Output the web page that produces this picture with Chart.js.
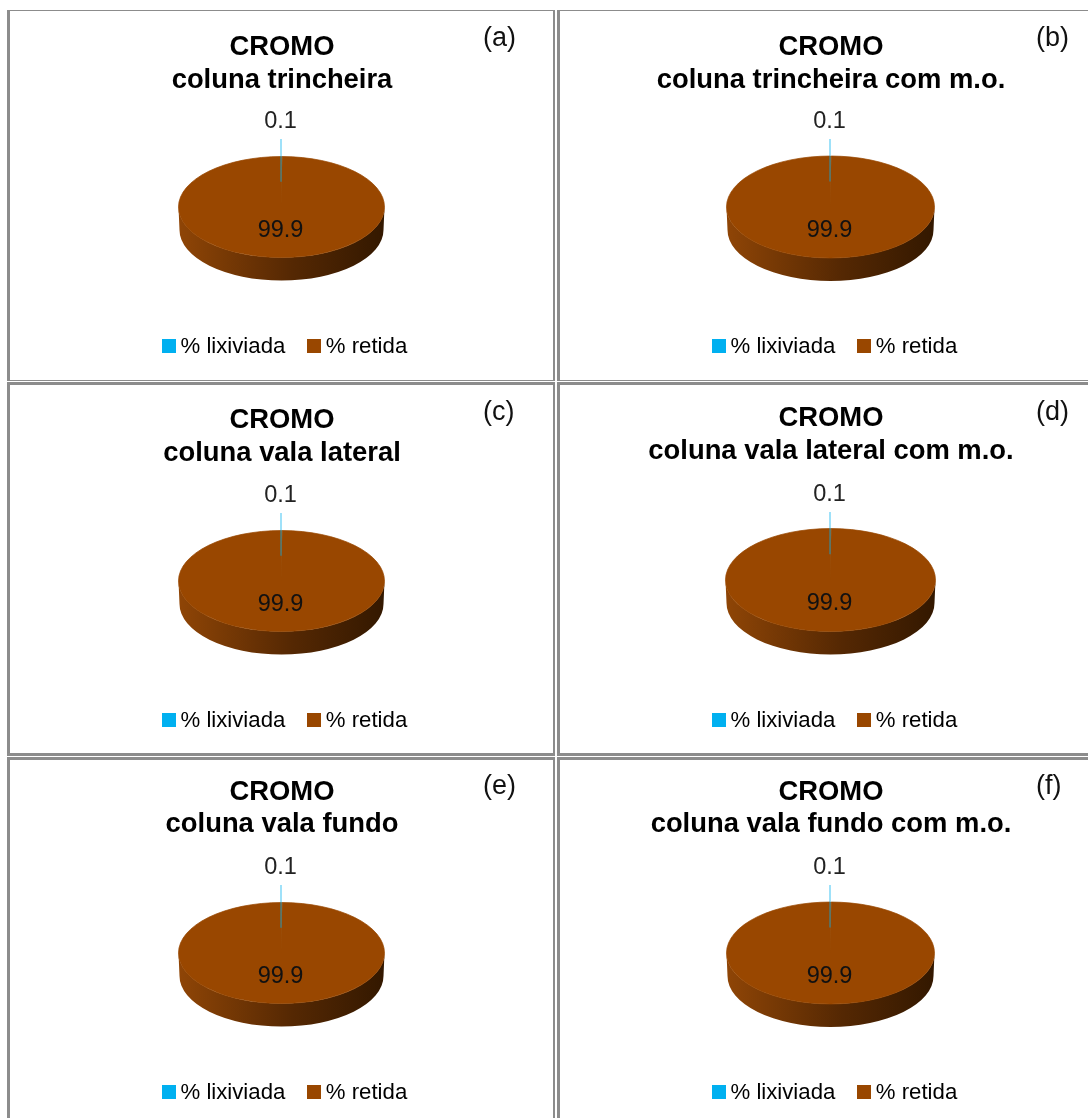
<!DOCTYPE html>
<html>
<head>
<meta charset="utf-8">
<script src="https://cdn.jsdelivr.net/npm/chart.js@4"></script>
<style>
  html, body { margin: 0; padding: 0; background: #fff; width: 1088px; height: 1118px; overflow: hidden; }
  .panel { position: absolute; }
  .frame { position: absolute; left: 0; top: 0; right: 0; bottom: 0; box-sizing: border-box; border: 0 solid #8c8c8c; }
  .panel canvas { position: absolute; left: 0; top: 0; }
  .tag { position: absolute; font: 27px "Liberation Sans", sans-serif; color: #111; line-height: 1; }
  .legend { position: absolute; display: flex; font: 22.2px "Liberation Sans", sans-serif; color: #000; white-space: nowrap; line-height: 24px; }
  .legend span.item { display: flex; align-items: center; margin-right: 22px; }
  .legend span.item:last-child { margin-right: 0; }
  .legend i { display: block; width: 14px; height: 14px; margin-right: 4.5px; }
</style>
</head>
<body>
<script>
const categories = ['% lixiviada', '% retida'];
const sliceColors = ['#00b0f0', '#994700'];

const subtitles = [
  'coluna trincheira',
  'coluna trincheira com m.o.',
  'coluna vala lateral',
  'coluna vala lateral com m.o.',
  'coluna vala fundo',
  'coluna vala fundo com m.o.'
];
const tags = ['(a)', '(b)', '(c)', '(d)', '(e)', '(f)'];
const leached = [0.1, 0.1, 0.1, 0.1, 0.1, 0.1];
const retained = [99.9, 99.9, 99.9, 99.9, 99.9, 99.9];

// page boxes, [left, top, width, height], and their border widths
const boxes = [
  [7, 10, 548, 371],
  [557, 10, 548, 371],
  [7, 382, 548, 374],
  [557, 382, 548, 374],
  [7, 757, 548, 370],
  [557, 757, 548, 370]
];
const borders = [
  '1px 2px 1px 3px',
  '1px 2px 1px 3px',
  '3px 2px 3px 3px',
  '3px 2px 3px 3px',
  '3px 2px 3px 3px',
  '3px 2px 3px 3px'
];
const canvasWidth = [550, 548, 550, 548, 550, 548];

// pie centre and radius inside each box, title offset, legend and tag tops
const pieX = [274.5, 273.5, 274.5, 273.5, 274.5, 273.5];
const pieY = [197, 197, 199, 198, 196, 196];
const pieR = [103, 104, 103, 105, 103, 104];
const titleTop = [21, 21, 22, 20, 19, 19];
const titleLine = [33, 33, 33, 33, 32, 32];
const legendTop = [324, 324, 326, 326, 323, 323];
const tagTop = [14, 14, 16, 16, 15, 15];

const SQUASH = 0.49;
const DEPTH = 23;

// flattens the library's pie into an ellipse and adds the side wall under it
const tiltedPie = {
  id: 'tiltedPie',
  beforeDatasetsDraw(chart, args, opts) {
    const arc = chart.getDatasetMeta(0).data[0];
    const ctx = chart.ctx;
    const rx = arc.outerRadius;
    const ry = rx * SQUASH;
    const grad = ctx.createLinearGradient(opts.x - rx, 0, opts.x + rx, 0);
    grad.addColorStop(0, '#8f4506');
    grad.addColorStop(0.55, '#552803');
    grad.addColorStop(1, '#331800');
    ctx.save();
    ctx.fillStyle = grad;
    ctx.beginPath();
    ctx.ellipse(opts.x, opts.y + DEPTH, rx - 1, ry, 0, 0, Math.PI);
    ctx.lineTo(opts.x - rx, opts.y);
    ctx.ellipse(opts.x, opts.y, rx, ry, 0, Math.PI, 0, true);
    ctx.closePath();
    ctx.fill();
    ctx.restore();

    ctx.save();
    ctx.translate(opts.x, opts.y);
    ctx.scale(1, SQUASH);
    ctx.translate(-arc.x, -arc.y);
  },
  afterDatasetsDraw(chart, args, opts) {
    const ctx = chart.ctx;
    ctx.restore();

    const arcs = chart.getDatasetMeta(0).data;
    const values = chart.data.datasets[0].data;
    const top = arcs[0].getCenterPoint();
    const lineEnd = opts.y + (top.y - arcs[0].y) * SQUASH;

    ctx.save();
    ctx.strokeStyle = 'rgba(0, 176, 240, 0.5)';
    ctx.lineWidth = 1.5;
    ctx.beginPath();
    ctx.moveTo(opts.x - 0.5, opts.y - 68);
    ctx.lineTo(opts.x - 0.5, lineEnd);
    ctx.stroke();

    ctx.font = '23.5px "Liberation Sans", sans-serif';
    ctx.textAlign = 'center';
    ctx.textBaseline = 'middle';
    ctx.fillStyle = '#222';
    ctx.fillText(values[0].toFixed(1), opts.x - 1, opts.y - 85);
    ctx.fillStyle = '#111';
    ctx.fillText(values[1].toFixed(1), opts.x - 1, opts.y + 24);
    ctx.restore();
  }
};

// legend built as page elements from the library's legend items
const sideLegend = {
  id: 'sideLegend',
  afterUpdate(chart, args, opts) {
    const items = chart.options.plugins.legend.labels.generateLabels(chart);
    opts.node.innerHTML = '';
    items.forEach((item) => {
      const row = document.createElement('span');
      row.className = 'item';
      const swatch = document.createElement('i');
      swatch.style.background = item.fillStyle;
      row.appendChild(swatch);
      row.appendChild(document.createTextNode(item.text));
      opts.node.appendChild(row);
    });
  }
};

subtitles.forEach((subtitle, i) => {
  const [left, top, width, height] = boxes[i];
  const panel = document.createElement('div');
  panel.className = 'panel';
  panel.style.cssText = `left:${left}px;top:${top}px;width:${width}px;height:${height}px`;

  const frame = document.createElement('div');
  frame.className = 'frame';
  frame.style.borderWidth = borders[i];
  panel.appendChild(frame);

  const canvas = document.createElement('canvas');
  canvas.width = canvasWidth[i];
  canvas.height = height;
  panel.appendChild(canvas);

  const tag = document.createElement('div');
  tag.className = 'tag';
  tag.textContent = tags[i];
  tag.style.cssText = `left:${i % 2 ? 479 : 476}px;top:${tagTop[i]}px`;
  panel.appendChild(tag);

  const legend = document.createElement('div');
  legend.className = 'legend';
  legend.style.cssText = `top:${legendTop[i]}px;left:155px`;
  panel.appendChild(legend);
  document.body.appendChild(panel);

  new Chart(canvas, {
    type: 'pie',
    plugins: [tiltedPie, sideLegend],
    data: {
      labels: categories,
      datasets: [{
        data: [leached[i], retained[i]],
        backgroundColor: sliceColors,
        borderColor: sliceColors,
        borderWidth: [0, 1],
        radius: pieR[i],
        clip: false
      }]
    },
    options: {
      responsive: false,
      animation: false,
      events: [],
      plugins: {
        legend: { display: false },
        tooltip: { enabled: false },
        title: {
          display: true,
          text: ['CROMO', subtitle],
          color: '#000',
          font: { family: '"Liberation Sans", sans-serif', size: 27.4, weight: 'bold', lineHeight: titleLine[i] + 'px' },
          padding: { top: titleTop[i], bottom: 10 }
        },
        tiltedPie: { x: pieX[i], y: pieY[i] },
        sideLegend: { node: legend }
      }
    }
  });
});
</script>
</body>
</html>
